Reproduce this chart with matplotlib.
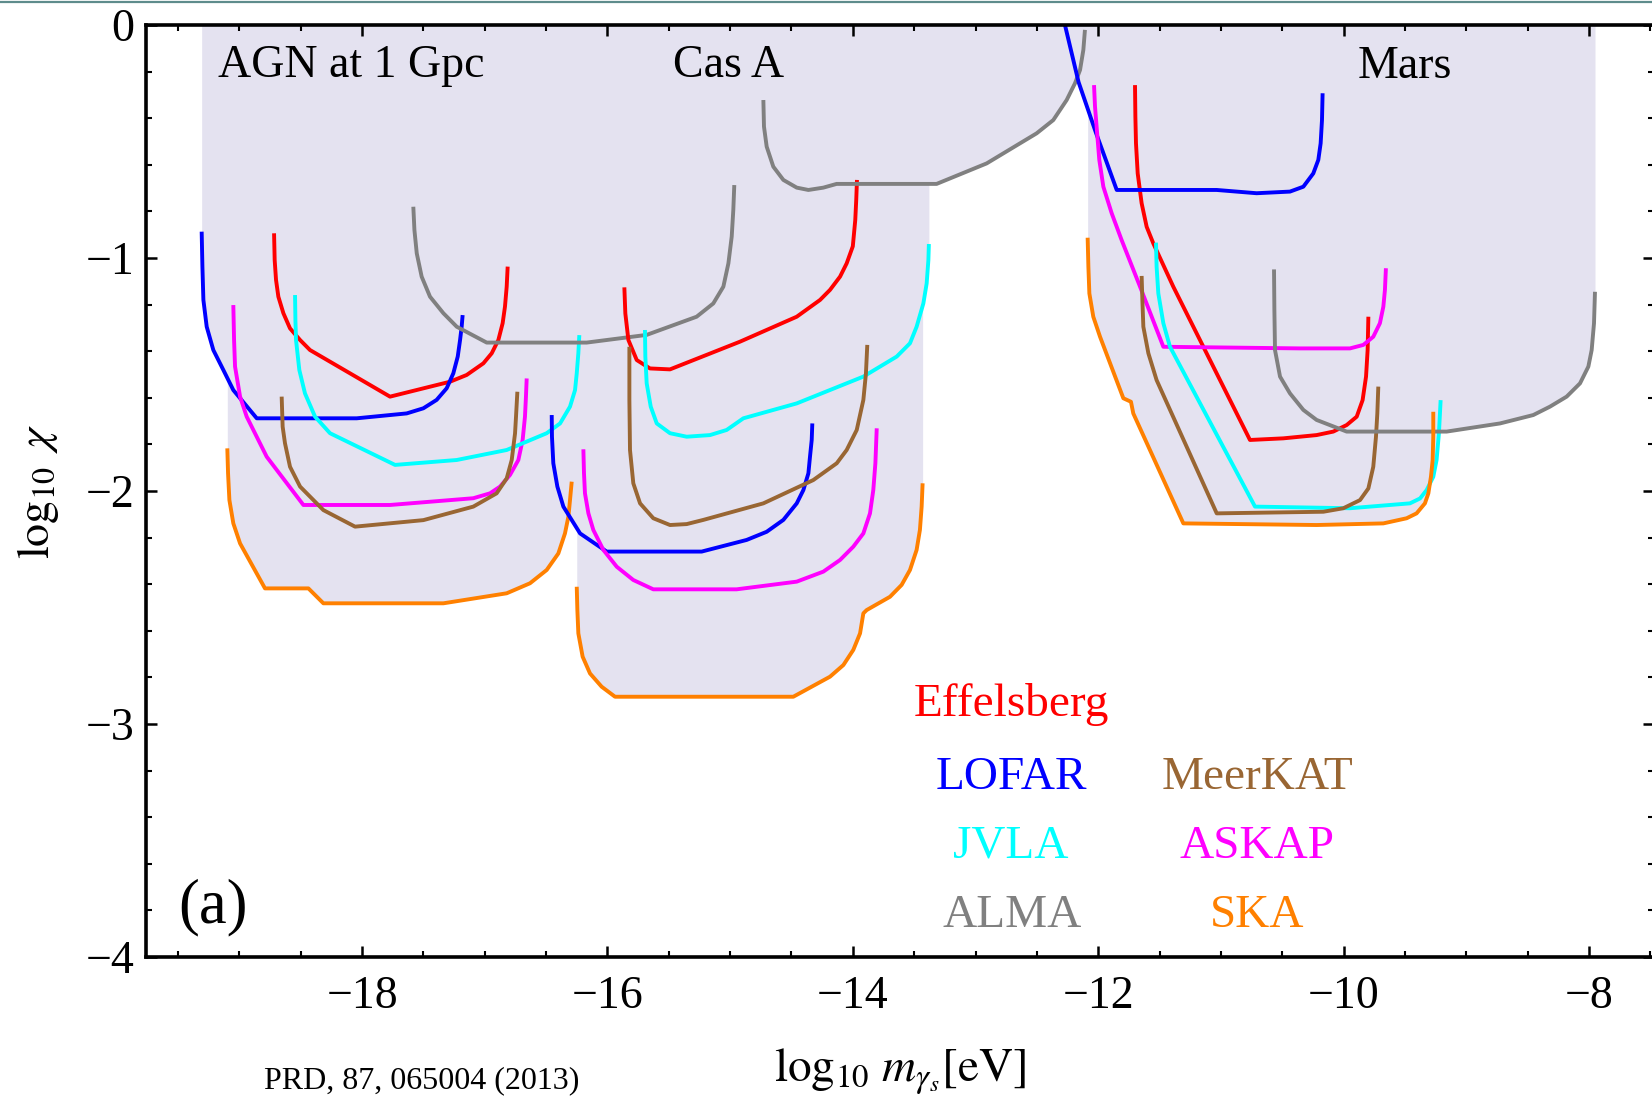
import numpy as np
import matplotlib
matplotlib.use("Agg")
import matplotlib.pyplot as plt
from matplotlib.ticker import MultipleLocator
from matplotlib.lines import Line2D

plt.rcParams['font.family'] = ['Liberation Serif', 'DejaVu Serif']
plt.rcParams['mathtext.fontset'] = 'stix'

# ---------------- AGN at 1 Gpc ----------------
agn_eff_x = [-18.717, -18.712, -18.701, -18.682, -18.641, -18.587, -18.505, -18.424, -17.772, -17.283,
             -17.147, -17.011, -16.943, -16.889, -16.854, -16.835, -16.821, -16.813]
agn_eff_y = [-0.894, -1.009, -1.094, -1.166, -1.237, -1.302, -1.352, -1.395, -1.595, -1.531,
             -1.502, -1.452, -1.409, -1.352, -1.280, -1.209, -1.123, -1.037]
agn_lofar_x = [-19.307, -19.301, -19.293, -19.266, -19.212, -19.130, -19.049, -18.858, -18.043, -17.636,
               -17.500, -17.392, -17.310, -17.256, -17.220, -17.201, -17.188, -17.180]
agn_lofar_y = [-0.887, -1.037, -1.180, -1.295, -1.395, -1.481, -1.567, -1.688, -1.688, -1.667,
               -1.645, -1.609, -1.559, -1.495, -1.423, -1.352, -1.295, -1.245]
agn_askap_x = [-19.049, -19.043, -19.035, -18.994, -18.940, -18.777, -18.478, -17.772, -17.093, -16.957,
               -16.875, -16.794, -16.726, -16.691, -16.672, -16.664, -16.658]
agn_askap_y = [-1.202, -1.352, -1.466, -1.595, -1.681, -1.853, -2.060, -2.060, -2.031, -2.010,
               -1.981, -1.931, -1.867, -1.781, -1.681, -1.595, -1.517]
agn_jvla_x = [-18.546, -18.543, -18.538, -18.511, -18.465, -18.383, -18.261, -17.731, -17.229, -16.821,
              -16.495, -16.386, -16.305, -16.264, -16.250, -16.237, -16.229]
agn_jvla_y = [-1.159, -1.266, -1.352, -1.481, -1.581, -1.681, -1.752, -1.888, -1.867, -1.824,
              -1.752, -1.710, -1.638, -1.567, -1.495, -1.409, -1.331]
agn_meerkat_x = [-18.655, -18.647, -18.628, -18.587, -18.505, -18.315, -18.057, -17.500, -17.093, -16.903,
                 -16.821, -16.780, -16.753, -16.745, -16.734]
agn_meerkat_y = [-1.595, -1.724, -1.795, -1.896, -1.981, -2.082, -2.153, -2.125, -2.067, -2.010,
                 -1.946, -1.867, -1.753, -1.681, -1.574]
agn_alma_x = [-17.582, -17.573, -17.554, -17.514, -17.446, -17.337, -17.228, -16.984, -16.169, -15.680,
              -15.273, -15.137, -15.055, -15.014, -14.987, -14.974, -14.966]
agn_alma_y = [-0.780, -0.880, -0.980, -1.080, -1.166, -1.237, -1.295, -1.363, -1.363, -1.330,
              -1.252, -1.195, -1.123, -1.023, -0.908, -0.794, -0.687]
agn_ska_x = [-19.098, -19.092, -19.081, -19.049, -18.994, -18.791, -18.437, -18.315, -17.337, -16.821,
             -16.631, -16.495, -16.400, -16.346, -16.318, -16.305, -16.291]
agn_ska_y = [-1.817, -1.924, -2.039, -2.139, -2.225, -2.418, -2.418, -2.482, -2.482, -2.439,
             -2.396, -2.339, -2.268, -2.182, -2.110, -2.039, -1.960]

# ---------------- Cas A ----------------
cas_eff_x = [-15.862, -15.854, -15.829, -15.761, -15.653, -15.490, -14.919, -14.457, -14.267, -14.186,
             -14.104, -14.050, -14.000, -13.980, -13.972, -13.966]
cas_eff_y = [-1.126, -1.238, -1.352, -1.438, -1.474, -1.478, -1.359, -1.252, -1.180, -1.137,
             -1.080, -1.023, -0.950, -0.837, -0.750, -0.665]
cas_lofar_x = [-16.454, -16.452, -16.441, -16.408, -16.359, -16.223, -16.006, -15.232, -14.865, -14.702,
               -14.566, -14.457, -14.403, -14.362, -14.349, -14.335, -14.330]
cas_lofar_y = [-1.674, -1.767, -1.881, -1.981, -2.067, -2.182, -2.260, -2.260, -2.210, -2.175,
               -2.124, -2.053, -1.996, -1.924, -1.853, -1.781, -1.710]
cas_askap_x = [-16.196, -16.191, -16.183, -16.155, -16.115, -16.033, -15.924, -15.789, -15.626, -14.947,
               -14.457, -14.240, -14.104, -13.996, -13.914, -13.860, -13.833, -13.816, -13.805]
cas_askap_y = [-1.821, -1.924, -2.010, -2.096, -2.167, -2.253, -2.325, -2.382, -2.422, -2.422,
               -2.389, -2.346, -2.296, -2.239, -2.182, -2.096, -1.996, -1.881, -1.731]
cas_jvla_x = [-15.694, -15.691, -15.680, -15.647, -15.598, -15.490, -15.354, -15.164, -15.028, -14.892,
              -14.457, -13.914, -13.642, -13.534, -13.480, -13.425, -13.398, -13.384, -13.380]
cas_jvla_y = [-1.309, -1.423, -1.538, -1.638, -1.710, -1.752, -1.767, -1.760, -1.738, -1.688,
              -1.624, -1.509, -1.423, -1.366, -1.295, -1.195, -1.109, -1.009, -0.940]
cas_meerkat_x = [-15.821, -15.821, -15.816, -15.789, -15.734, -15.626, -15.490, -15.354, -15.218, -14.729,
                 -14.322, -14.131, -14.050, -13.968, -13.914, -13.893, -13.882]
cas_meerkat_y = [-1.381, -1.609, -1.824, -1.967, -2.053, -2.117, -2.146, -2.142, -2.124, -2.053,
                 -1.953, -1.881, -1.824, -1.738, -1.609, -1.495, -1.373]
cas_alma_x = [-14.729, -14.724, -14.702, -14.648, -14.566, -14.457, -14.362, -14.240, -14.132, -13.317,
              -12.909, -12.502, -12.366, -12.257, -12.189, -12.148, -12.121, -12.108]
cas_alma_y = [-0.322, -0.436, -0.522, -0.608, -0.665, -0.698, -0.708, -0.698, -0.682, -0.682,
              -0.594, -0.465, -0.408, -0.322, -0.250, -0.193, -0.107, -0.021]
cas_ska_x = [-16.250, -16.245, -16.237, -16.202, -16.142, -16.047, -15.938, -14.485, -14.186, -14.077,
             -13.996, -13.941, -13.914, -13.887, -13.697, -13.602, -13.534, -13.480, -13.453, -13.439, -13.431]
cas_ska_y = [-2.411, -2.511, -2.611, -2.711, -2.783, -2.840, -2.883, -2.883, -2.797, -2.747,
             -2.682, -2.611, -2.525, -2.511, -2.454, -2.403, -2.339, -2.253, -2.167, -2.067, -1.967]

# ---------------- Mars ----------------
mars_eff_x = [-11.700, -11.697, -11.692, -11.678, -11.646, -11.605, -11.551, -11.388, -10.763, -10.491,
              -10.220, -10.084, -9.975, -9.893, -9.845, -9.817, -9.804, -9.798]
mars_eff_y = [-0.258, -0.393, -0.508, -0.637, -0.765, -0.866, -0.937, -1.123, -1.781, -1.774,
              -1.760, -1.745, -1.717, -1.681, -1.610, -1.509, -1.395, -1.252]
mars_lofar_x = [-12.280, -12.160, -12.020, -11.849, -11.034, -10.709, -10.437, -10.328, -10.247, -10.206,
                -10.187, -10.176, -10.171]
mars_lofar_y = [0.020, -0.245, -0.460, -0.708, -0.708, -0.722, -0.715, -0.694, -0.637, -0.579,
                -0.508, -0.408, -0.293]
mars_askap_x = [-12.034, -12.026, -12.013, -11.991, -11.958, -11.890, -11.809, -11.659, -11.469, -10.355,
                -9.948, -9.839, -9.758, -9.704, -9.676, -9.663, -9.655]
mars_askap_y = [-0.258, -0.350, -0.436, -0.579, -0.694, -0.808, -0.923, -1.123, -1.381, -1.388,
                -1.388, -1.373, -1.338, -1.280, -1.209, -1.137, -1.044]
mars_jvla_x = [-11.529, -11.524, -11.510, -11.469, -11.415, -10.722, -9.948, -9.459, -9.377, -9.323,
               -9.269, -9.242, -9.223, -9.209]
mars_jvla_y = [-0.934, -1.037, -1.152, -1.280, -1.381, -2.067, -2.074, -2.053, -2.032, -1.996,
               -1.939, -1.867, -1.753, -1.610]
mars_meerkat_x = [-11.646, -11.640, -11.632, -11.591, -11.524, -11.034, -10.165, -10.002, -9.866, -9.798,
                  -9.758, -9.736, -9.725, -9.717]
mars_meerkat_y = [-1.077, -1.180, -1.295, -1.409, -1.524, -2.096, -2.089, -2.074, -2.039, -1.989,
                  -1.896, -1.767, -1.667, -1.552]
mars_alma_x = [-10.567, -10.564, -10.559, -10.518, -10.437, -10.328, -10.220, -9.975, -9.160, -8.725,
               -8.454, -8.318, -8.182, -8.073, -8.005, -7.978, -7.959, -7.951]
mars_alma_y = [-1.049, -1.223, -1.395, -1.509, -1.581, -1.652, -1.695, -1.745, -1.745, -1.710,
               -1.674, -1.638, -1.595, -1.538, -1.466, -1.395, -1.280, -1.145]
mars_ska_x = [-12.086, -12.080, -12.072, -12.040, -11.985, -11.795, -11.733, -11.714, -11.306, -10.219,
              -9.676, -9.486, -9.405, -9.337, -9.309, -9.288, -9.274, -9.269, -9.269]
mars_ska_y = [-0.913, -1.037, -1.152, -1.252, -1.338, -1.602, -1.617, -1.667, -2.139, -2.146,
              -2.139, -2.117, -2.096, -2.053, -2.010, -1.939, -1.867, -1.767, -1.660]

telescopes = ['Effelsberg', 'LOFAR', 'MeerKAT', 'JVLA', 'ASKAP', 'ALMA', 'SKA']
colors = {'Effelsberg': '#FF0000', 'LOFAR': '#0000FF', 'JVLA': '#00FFFF',
          'ASKAP': '#FF00FF', 'MeerKAT': '#996633', 'ALMA': '#808080', 'SKA': '#FF8000'}
shade = '#E4E2F0'

curves = [
    ('Effelsberg', agn_eff_x, agn_eff_y), ('LOFAR', agn_lofar_x, agn_lofar_y),
    ('ASKAP', agn_askap_x, agn_askap_y), ('JVLA', agn_jvla_x, agn_jvla_y),
    ('MeerKAT', agn_meerkat_x, agn_meerkat_y), ('ALMA', agn_alma_x, agn_alma_y),
    ('SKA', agn_ska_x, agn_ska_y),
    ('Effelsberg', cas_eff_x, cas_eff_y), ('LOFAR', cas_lofar_x, cas_lofar_y),
    ('ASKAP', cas_askap_x, cas_askap_y), ('JVLA', cas_jvla_x, cas_jvla_y),
    ('MeerKAT', cas_meerkat_x, cas_meerkat_y), ('ALMA', cas_alma_x, cas_alma_y),
    ('SKA', cas_ska_x, cas_ska_y),
    ('Effelsberg', mars_eff_x, mars_eff_y), ('LOFAR', mars_lofar_x, mars_lofar_y),
    ('ASKAP', mars_askap_x, mars_askap_y), ('JVLA', mars_jvla_x, mars_jvla_y),
    ('MeerKAT', mars_meerkat_x, mars_meerkat_y), ('ALMA', mars_alma_x, mars_alma_y),
    ('SKA', mars_ska_x, mars_ska_y),
]

W, H = 1652, 1097
fig = plt.figure(figsize=(W / 100, H / 100), dpi=100)
ax = fig.add_axes([145.6 / W, 1 - 957 / H, (1654 - 145.6) / W, (957 - 25) / H])

# excluded region = everything above each sensitivity curve
for name, x, y in curves:
    ax.fill_between(x, y, 0.05, color=shade, lw=0, zorder=1)
for name, x, y in curves:
    ax.plot(x, y, color=colors[name], lw=2.8, zorder=3,
            solid_capstyle='butt', solid_joinstyle='round')

ax.set_xlim(-19.764, -7.47)
ax.set_ylim(-4, 0)
ax.xaxis.set_major_locator(MultipleLocator(2))
ax.xaxis.set_minor_locator(MultipleLocator(0.5))
ax.yaxis.set_major_locator(MultipleLocator(1))
ax.yaxis.set_minor_locator(MultipleLocator(0.2))
ax.tick_params(which='both', direction='in', top=True, right=True)
ax.tick_params(which='major', length=8, width=1.8, labelsize=33)
ax.tick_params(which='minor', length=4, width=1.5)
ax.tick_params(axis='x', pad=13)
ax.tick_params(axis='y', pad=8)
for s in ax.spines.values():
    s.set_linewidth(2.6)
    s.set_zorder(5)

# source labels
ax.text(-19.17, -0.222, 'AGN at 1 Gpc', fontsize=33, ha='left', va='baseline')
ax.text(-15.013, -0.222, 'Cas A', fontsize=33, ha='center', va='baseline')
ax.text(-9.50, -0.228, 'Mars', fontsize=33, ha='center', va='baseline')
ax.text(-19.218, -3.85, '(a)', fontsize=45, ha='center', va='baseline')

# colour key
key_x = {'Effelsberg': -12.707, 'LOFAR': -12.711, 'JVLA': -12.711, 'ALMA': -12.705,
         'MeerKAT': -10.701, 'ASKAP': -10.702, 'SKA': -10.706}
key_y = {'Effelsberg': -2.966, 'LOFAR': -3.279, 'MeerKAT': -3.279, 'JVLA': -3.575,
         'ASKAP': -3.575, 'ALMA': -3.871, 'SKA': -3.871}
for name in telescopes:
    ax.text(key_x[name], key_y[name], name, color=colors[name], fontsize=34,
            ha='center', va='baseline')

fig.text(38 / W, 1 - 492 / H, r'$\log_{10}\ \chi$', fontsize=33, rotation=90,
         ha='center', va='center')
fig.text(900 / W, 1 - 1072 / H, r'$\log_{10}\, m_{\gamma_s}[\mathrm{eV}]$', fontsize=34,
         ha='center', va='center')
fig.text(422 / W, 1 - 1081 / H, 'PRD, 87, 065004 (2013)', fontsize=23,
         ha='center', va='center')

fig.add_artist(Line2D([0, 1], [1 - 1.5 / H, 1 - 1.5 / H], transform=fig.transFigure,
                      color='#5E8C8C', lw=1.6))

fig.savefig('out.png', dpi=100)
